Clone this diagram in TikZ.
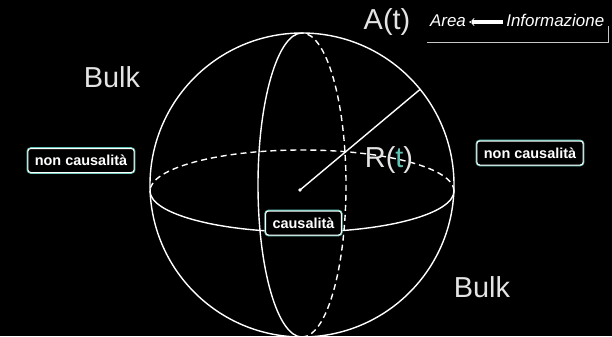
\documentclass[tikz,border=0pt]{standalone}
\usepackage{fontspec}
\setmainfont{Liberation Sans}
\usetikzlibrary{calc, positioning, arrows.meta}
\definecolor{glowteal}{RGB}{95,195,180}
\definecolor{softwhite}{RGB}{228,228,228}

\begin{document}
\begin{tikzpicture}[x=1bp, y=1bp,
    wire/.style={white, line width=1.4bp},
    hidden/.style={wire, dash pattern=on 6bp off 4bp},
    bigtext/.style={text=softwhite, font=\fontsize{29}{32}\selectfont},
    infotext/.style={text=white, font=\itshape\fontsize{17}{19}\selectfont,
        inner xsep=1bp, inner ysep=15bp, text height=12bp, text depth=1bp},
    tagbox/.style={draw=white, line width=1bp, rounded corners=3bp, fill=black,
        text=white, font=\bfseries\fontsize{14.5}{16}\selectfont,
        inner xsep=7bp, minimum height=24bp,
        preaction={draw=glowteal, line width=2.6bp}}]
    % Background
    \fill[black] (0,0) rectangle (612,336);
    \useasboundingbox (0,0) rectangle (612,336);

    % Sphere
    \coordinate (C) at (302,151);
    \coordinate (O) at (300,146);
    \draw[wire] (C) circle[radius=152bp];

    % Equator (back half dashed)
    \draw[hidden] ($(C)+(152,-6)$) arc[start angle=0, end angle=180, x radius=152bp, y radius=41bp];
    \draw[wire] ($(C)+(-152,-6)$) arc[start angle=180, end angle=360, x radius=152bp, y radius=41bp];

    % Meridian (back half dashed)
    \draw[wire] ($(C)+(0,152)$) arc[start angle=90, end angle=270, x radius=44bp, y radius=152bp];
    \draw[hidden] ($(C)+(0,-152)$) arc[start angle=-90, end angle=90, x radius=44bp, y radius=152bp];

    % Radius
    \coordinate (rim) at ($(C)+(39:152bp)$);
    \draw[wire] (O) -- (rim);
    \fill[white] (O) circle[radius=1.8bp];

    % Labels
    \node[bigtext] (area) at (387,314) {A(t)};
    \node[bigtext] (radius) at (389,176) {R(\textcolor{glowteal}{t})};
    \node[bigtext] (bulkA) at (112,259) {Bulk};
    \node[bigtext] (bulkB) at (482,49) {Bulk};

    % Area <= Informazione
    \node[infotext] (areaword) at (448,315) {Area};
    \node[infotext, right=38bp of areaword] (infoword) {Informazione};
    \draw[white, line width=0.7bp, double distance=2bp, -{Implies[length=5bp, width=9bp]},
        shorten >=2bp, shorten <=2bp] ([yshift=-1bp]infoword.west) -- ([yshift=-1bp]areaword.east);
    \draw[gray!45, line width=0.8bp] ([xshift=-2bp]areaword.south west) -- ([xshift=3bp]infoword.south east) -- ++(0,17);

    % Boxes
    \node[tagbox] (leftnc) at (81,175.5) {non causalità};
    \node[tagbox] (rightnc) at (530,183) {non causalità};
    \node[tagbox] (causal) at (303.5,113) {causalità};
\end{tikzpicture}
\end{document}
